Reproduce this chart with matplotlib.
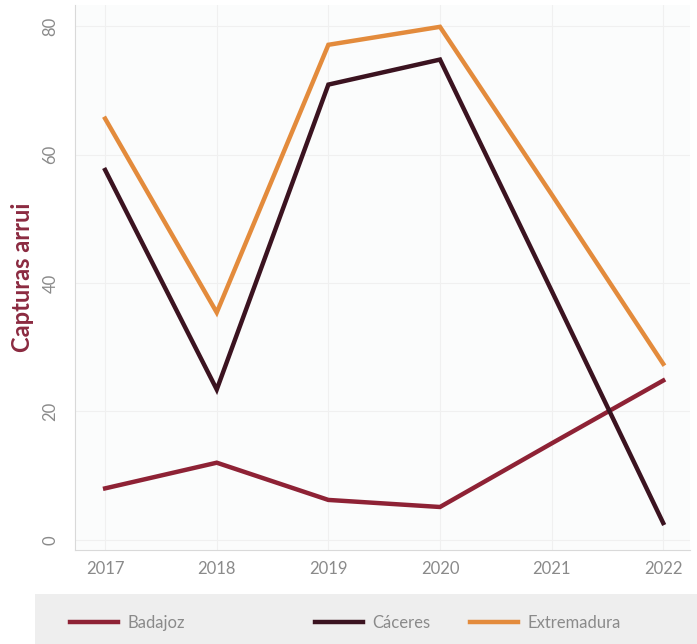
import matplotlib
matplotlib.use("Agg")
import matplotlib.pyplot as plt
from matplotlib.patches import Rectangle

years = [2017, 2018, 2019, 2020, 2021, 2022]
badajoz = [8, 12, 6.2, 5.1, 15, 24.8]
caceres = [57.6, 23.4, 70.9, 74.8, 38.8, 2.6]
extremadura = [65.6, 35.4, 77.1, 79.9, 53.8, 27.4]
series_names = ["Badajoz", "Cáceres", "Extremadura"]
colors = ["#8e2235", "#3b1320", "#e38b3c"]
y_ticks = [0, 20, 40, 60, 80]

plt.rcParams['font.family'] = ['Lato', 'DejaVu Sans']

fig = plt.figure(figsize=(6.97, 6.44), dpi=100)
fig.patch.set_facecolor("white")
ax = fig.add_axes([75/697, 1-550/644, 615/697, 545/644])
ax.set_facecolor("#fbfcfc")

handles = []
for vals, name, c in zip([badajoz, caceres, extremadura], series_names, colors):
    h, = ax.plot(years, vals, color=c, lw=3.2, label=name, solid_joinstyle="miter")
    handles.append(h)

ax.set_xlim(2016.73, 2022.24)
ax.set_ylim(-1.6, 83.3)
ax.set_xticks(years)
ax.set_xticklabels([str(y) for y in years])
ax.set_yticks(y_ticks)
for t in ax.get_yticklabels():
    t.set_rotation(90)
    t.set_va("center")
ax.tick_params(axis="both", length=0, colors="#8a8a8a", labelsize=12)
ax.tick_params(axis="y", pad=12)
ax.tick_params(axis="x", pad=8)
ax.grid(True, color="#f0f0f0", lw=0.8)
for s in ["top", "right"]:
    ax.spines[s].set_visible(False)
ax.spines["left"].set_color("#d9d9d9")
ax.spines["bottom"].set_color("#d9d9d9")
ax.set_ylabel("Capturas arrui", fontsize=17, fontweight="bold", color="#8b2a40", labelpad=6)

fig.patches.append(Rectangle((35/697, 0), 1-35/697, 50/644, transform=fig.transFigure,
                             facecolor="#eeeeee", edgecolor="none", zorder=0))
leg_x = [70/697, 315/697, 470/697]
for h, x in zip(handles, leg_x):
    leg = fig.legend(handles=[h], loc="center left", bbox_to_anchor=(x, 21/644),
                     frameon=False, fontsize=12, handlelength=2.9, handletextpad=0.55,
                     borderpad=0, borderaxespad=0)
    for t in leg.get_texts():
        t.set_color("#8a8a8a")

fig.savefig("out.png", dpi=100)
